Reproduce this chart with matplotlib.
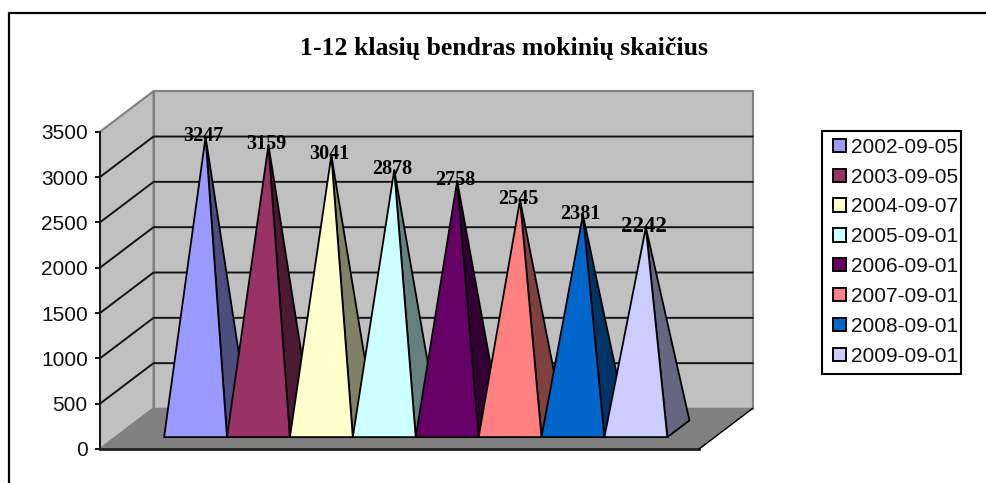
import matplotlib
matplotlib.use("Agg")
import matplotlib.pyplot as plt
from matplotlib.patches import Polygon, Patch, Rectangle

W, H = 986, 483

# ---- data ----
title = "1-12 klasių bendras mokinių skaičius"
categories = ["2002-09-05", "2003-09-05", "2004-09-07", "2005-09-01",
              "2006-09-01", "2007-09-01", "2008-09-01", "2009-09-01"]
values = [3247, 3159, 3041, 2878, 2758, 2545, 2381, 2242]
yticks = [0, 500, 1000, 1500, 2000, 2500, 3000, 3500]
face_colors = ["#9999FF", "#993366", "#FFFFCC", "#CCFFFF",
               "#660066", "#FF8080", "#0066CC", "#CCCCFF"]
side_colors = ["#4D4D80", "#4D1A33", "#808066", "#668080",
               "#330033", "#804040", "#003366", "#666680"]

# ---- layout ----
AX_L, AX_R, AX_B, AX_T = 100, 699, 449, 131.7     # front plane in pixels
UNIT_PX = 62.9                                    # width of a category
DEPTH_X_PX, DEPTH_Y_PX = 53.5, 40.5               # wall-to-front offset
FIRST = 0.77                                      # gap before the first pyramid
D_FRONT, D_BACK = 0.293, 0.707                    # pyramid base depth range
D_APEX = 0.48
APEX_SCALE = 0.994

fig = plt.figure(figsize=(W / 100, H / 100), dpi=100, facecolor="white")
ax = fig.add_axes([AX_L / W, 1 - AX_B / H, (AX_R - AX_L) / W, (AX_B - AX_T) / H])
ax.set_xlim(0, (AX_R - AX_L) / UNIT_PX)
ax.set_ylim(yticks[0], yticks[-1])
ax.patch.set_visible(False)

DX = DEPTH_X_PX / UNIT_PX
DY = DEPTH_Y_PX * (yticks[-1] - yticks[0]) / (AX_B - AX_T)
XMAX = ax.get_xlim()[1]
YMAX = yticks[-1]


def P(x, v, d):
    """Oblique projection: x in category units, v in data units, d in depth 0..1."""
    return (x + d * DX, v + d * DY)


def poly(points, fc, ec, lw, z):
    ax.add_patch(Polygon(points, closed=True, facecolor=fc, edgecolor=ec,
                         linewidth=lw, zorder=z, clip_on=False, joinstyle="round"))


# walls and floor
poly([P(0, 0, 1), P(XMAX, 0, 1), P(XMAX, YMAX, 1), P(0, YMAX, 1)], "#C0C0C0", "#808080", 1.5, 1)
poly([P(0, 0, 0), P(0, 0, 1), P(0, YMAX, 1), P(0, YMAX, 0)], "#C0C0C0", "#808080", 1.5, 1)
poly([P(0, 0, 0), P(XMAX, 0, 0), P(XMAX, 0, 1), P(0, 0, 1)], "#808080", "#808080", 1.0, 2)

# floor's dark outer edges
ax.plot(*zip(P(0, 0, 0), P(XMAX, 0, 0)), color="#222222", lw=2, zorder=3, clip_on=False)
ax.plot(*zip(P(XMAX, 0, 0), P(XMAX, 0, 1)), color="black", lw=1, zorder=3, clip_on=False)

# gridlines on both walls
for t in yticks[1:-1]:
    ax.plot(*zip(P(0, t, 0), P(0, t, 1), P(XMAX, t, 1)), color="#151515", lw=1.4,
            zorder=3, clip_on=False)

# pyramids
for i, v in enumerate(values):
    x0, x1 = FIRST + i, FIRST + i + 1
    apex = P((x0 + x1) / 2, v * APEX_SCALE, D_APEX)
    fl, fr = P(x0, 0, D_FRONT), P(x1, 0, D_FRONT)
    br = P(x1, 0, D_BACK)
    z = 5 + i
    poly([fr, br, apex], side_colors[i], "black", 1.3, z)
    poly([fl, fr, apex], face_colors[i], "black", 1.3, z + 0.5)
    last = i == len(values) - 1
    ax.annotate(str(v), xy=apex, xytext=(-1.6, 0.9), textcoords="offset points",
                ha="center", va="center", family="Liberation Serif", weight="bold",
                fontsize=16.5 if last else 14.5, color="black", zorder=30,
                annotation_clip=False)

# axes furniture
for s in ("top", "right", "bottom"):
    ax.spines[s].set_visible(False)
ax.spines["left"].set_linewidth(1.4)
ax.spines["left"].set_color("#151515")
ax.spines["left"].set_zorder(4)
ax.set_xticks([])
ax.set_yticks(yticks)
ax.set_yticklabels([str(t) for t in yticks], family="Liberation Sans", fontsize=15, color="#111111")
ax.tick_params(axis="y", length=3.5, width=1.4, pad=5.3, color="#151515")

# title
fig.text(503.5 / W, 1 - 49 / H, title, ha="center", va="center",
         family="Liberation Serif", weight="bold", fontsize=18.5, color="black")

# legend
handles = [Patch(facecolor=c, edgecolor="black", linewidth=1.4) for c in face_colors]
leg = fig.legend(handles, categories, loc="upper left",
                 bbox_to_anchor=(826 / W, 1 - 130.5 / H), bbox_transform=fig.transFigure,
                 borderaxespad=0, frameon=False,
                 prop={"family": "Liberation Sans", "size": 15},
                 handlelength=0.6, handleheight=0.6, handletextpad=0.27,
                 borderpad=0.35, labelspacing=0.52, labelcolor="#111111")
fig.add_artist(Rectangle((822 / W, 1 - 374 / H), 139 / W, 243.3 / H, transform=fig.transFigure,
                         facecolor="none", edgecolor="black", linewidth=1.5))

# outer frame: left and top rules
fig.add_artist(plt.Line2D([9 / W, 9 / W, 1], [0, 1 - 12.7 / H, 1 - 12.7 / H],
                          transform=fig.transFigure, color="black", lw=1.6))

fig.savefig("out.png", dpi=100, facecolor="white")
